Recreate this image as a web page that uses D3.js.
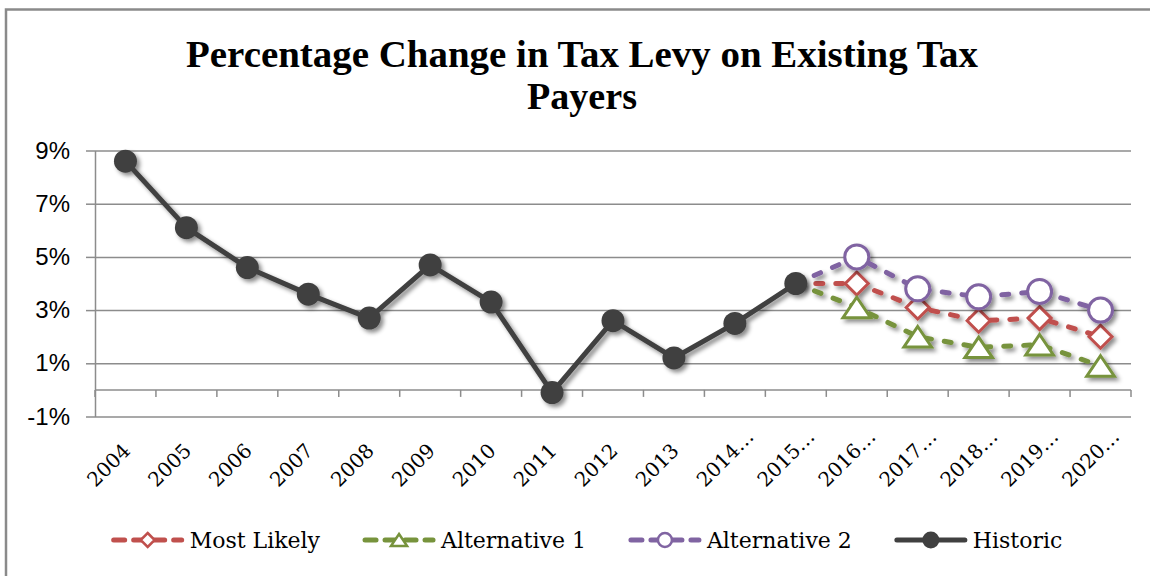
<!DOCTYPE html>
<html>
<head>
<meta charset="utf-8">
<script src="https://cdn.jsdelivr.net/npm/d3@7"></script>
<style>
  body { margin: 0; background: #fff; }
  svg { display: block; }
</style>
</head>
<body>
<div id="chart"></div>
<script>
// data
var categories = ["2004", "2005", "2006", "2007", "2008", "2009", "2010", "2011", "2012",
                  "2013", "2014\u2026", "2015\u2026", "2016\u2026", "2017\u2026", "2018\u2026",
                  "2019\u2026", "2020\u2026"];
var historic     = [8.6, 6.1, 4.6, 3.6, 2.7, 4.7, 3.3, -0.1, 2.6, 1.2, 2.5, 4.0, null, null, null, null, null];
var mostLikely   = [null, null, null, null, null, null, null, null, null, null, null, 4.0, 4.0, 3.1, 2.6, 2.7, 2.0];
var alternative1 = [null, null, null, null, null, null, null, null, null, null, null, 4.0, 3.1, 2.0, 1.6, 1.7, 0.9];
var alternative2 = [null, null, null, null, null, null, null, null, null, null, null, 4.0, 5.0, 3.8, 3.5, 3.7, 3.0];
var yTicks = [-1, 1, 3, 5, 7, 9];
var titleLines = ["Percentage Change in Tax Levy on Existing Tax", "Payers"];

var width = 1150, height = 576;
var serif = "'DejaVu Serif', 'Liberation Serif', serif";
var gridColor = "#8c8c8c";

var series = [
    {name: "Most Likely",   values: mostLikely,   color: "#C0504D", marker: "diamond",  dashed: true},
    {name: "Alternative 1", values: alternative1, color: "#77933C", marker: "triangle", dashed: true},
    {name: "Alternative 2", values: alternative2, color: "#8064A2", marker: "circle",   dashed: true},
    {name: "Historic",      values: historic,     color: "#404040", marker: "dot",      dashed: false}
];

//
// Scales
//
var x = d3.scaleBand().domain(categories).range([95, 1131]);
var y = d3.scaleLinear().domain([-1, 9]).range([416.5, 150.5]);
function cx(i) { return x(categories[i]) + x.bandwidth() / 2; }

//
// SVG
//
var svg = d3.select("#chart").append("svg")
    .attr("width", width)
    .attr("height", height);

var defs = svg.append("defs");
defs.append("filter")
    .attr("id", "shadow")
    .attr("x", "-20%").attr("y", "-20%")
    .attr("width", "150%").attr("height", "150%")
  .append("feDropShadow")
    .attr("dx", 3).attr("dy", 3)
    .attr("stdDeviation", 2)
    .attr("flood-color", "#000")
    .attr("flood-opacity", 0.45);

// chart frame
svg.append("rect")
    .attr("x", 6).attr("y", 9.5)
    .attr("width", 1200).attr("height", 650)
    .attr("fill", "#fff")
    .attr("stroke", "#8a8a8a")
    .attr("stroke-width", 2.5);

// title
svg.append("g").selectAll("text")
    .data(titleLines)
  .enter().append("text")
    .attr("x", 582)
    .attr("y", function(d, i) { return 67 + i * 42; })
    .attr("text-anchor", "middle")
    .attr("font-family", "'Liberation Serif', serif")
    .attr("font-weight", "bold")
    .attr("font-size", 37)
    .attr("fill", "#000")
    .text(function(d) { return d; })
    .each(function(d, i) {
        var w = this.getComputedTextLength();
        var target = i === 0 ? 792 : 110;
        if (Math.abs(w - target) > 2) {
            d3.select(this).attr("textLength", target).attr("lengthAdjust", "spacingAndGlyphs");
        }
    });

// y gridlines
svg.append("g")
    .attr("class", "grid")
    .attr("transform", "translate(95,0)")
    .call(d3.axisLeft(y).tickValues(yTicks).tickSize(-(x.range()[1] - x.range()[0])).tickFormat(""))
    .call(function(g) { g.select(".domain").remove(); })
    .selectAll("line")
    .attr("stroke", gridColor)
    .attr("stroke-width", 1.5);

// y axis
var yAxis = svg.append("g")
    .attr("transform", "translate(95,0)")
    .call(d3.axisLeft(y).tickValues(yTicks).tickSizeInner(9).tickSizeOuter(0).tickPadding(16)
          .tickFormat(function(d) { return d + "%"; }));
yAxis.select(".domain").attr("stroke", gridColor).attr("stroke-width", 1.5);
yAxis.selectAll(".tick line").attr("stroke", gridColor).attr("stroke-width", 1.5);
yAxis.selectAll(".tick text")
    .attr("font-family", "'Liberation Sans', Arial, sans-serif")
    .attr("font-size", 24)
    .attr("fill", "#000");

// x axis (crosses at 0%)
var xAxis = svg.append("g");
xAxis.append("line")
    .attr("x1", x.range()[0]).attr("x2", x.range()[1])
    .attr("y1", y(0)).attr("y2", y(0))
    .attr("stroke", gridColor).attr("stroke-width", 1.5);
xAxis.selectAll(".xtick")
    .data(categories.map(function(c) { return x(c); }).concat([x.range()[1]]))
  .enter().append("line")
    .attr("class", "xtick")
    .attr("x1", function(d) { return d; }).attr("x2", function(d) { return d; })
    .attr("y1", y(0)).attr("y2", y(0) + 7)
    .attr("stroke", gridColor).attr("stroke-width", 1.5);
xAxis.selectAll(".xlabel")
    .data(categories)
  .enter().append("text")
    .attr("class", "xlabel")
    .attr("transform", function(d, i) { return "translate(" + (cx(i) - 30) + ",488) rotate(-45)"; })
    .attr("text-anchor", "start")
    .attr("font-family", serif)
    .attr("font-size", 20)
    .attr("fill", "#000")
    .text(function(d) { return d; });

//
// Series
//
function markerPath(type, s) {
    if (type === "diamond") return "M0," + (-s) + "L" + s + ",0L0," + s + "L" + (-s) + ",0Z";
    if (type === "triangle") return "M0," + (-s * 0.85) + "L" + (s * 1.15) + "," + (s * 0.85) + "L" + (-s * 1.15) + "," + (s * 0.85) + "Z";
    return d3.symbol(d3.symbolCircle, Math.PI * s * s)();
}

var line = d3.line()
    .defined(function(d) { return d != null; })
    .x(function(d, i) { return cx(i); })
    .y(function(d) { return y(d); });

series.forEach(function(s) {
    var g = svg.append("g").attr("filter", "url(#shadow)");
    g.append("path")
        .datum(s.values)
        .attr("fill", "none")
        .attr("stroke", s.color)
        .attr("stroke-width", 5)
        .attr("stroke-linecap", "round")
        .attr("stroke-linejoin", "round")
        .attr("stroke-dasharray", s.dashed ? "7 13" : null)
        .attr("d", line);

    var pts = s.values.map(function(v, i) { return {v: v, i: i}; })
        .filter(function(d) { return d.v != null && (s.marker === "dot" || d.i > 11); });

    g.selectAll(".m")
        .data(pts)
      .enter().append("path")
        .attr("transform", function(d) { return "translate(" + cx(d.i) + "," + y(d.v) + ")"; })
        .attr("d", function() {
            if (s.marker === "dot") return markerPath("circle", 11.5);
            if (s.marker === "circle") return markerPath("circle", 12);
            if (s.marker === "diamond") return markerPath("diamond", 11.5);
            return markerPath("triangle", 12);
        })
        .attr("fill", s.marker === "dot" ? s.color : "#fff")
        .attr("stroke", s.marker === "dot" ? "none" : s.color)
        .attr("stroke-width", 3);
});

//
// Legend
//
var legend = svg.append("g");
var symW = 72, gap = 6, itemGap = 43;
var items = legend.selectAll(".item")
    .data(series)
  .enter().append("g")
    .attr("class", "item");

items.append("text")
    .attr("x", symW + gap)
    .attr("y", 548)
    .attr("font-family", serif)
    .attr("font-size", 22)
    .attr("fill", "#000")
    .text(function(d) { return d.name; });

items.append("line")
    .attr("x1", 2).attr("x2", symW - 2)
    .attr("y1", 540).attr("y2", 540)
    .attr("stroke", function(d) { return d.color; })
    .attr("stroke-width", 5)
    .attr("stroke-linecap", "round")
    .attr("stroke-dasharray", function(d) { return d.dashed ? "11 9" : null; });

items.append("path")
    .attr("transform", "translate(" + (symW / 2) + ",540)")
    .attr("d", function(d) {
        if (d.marker === "diamond") return markerPath("diamond", 7);
        if (d.marker === "triangle") return markerPath("triangle", 7);
        return markerPath("circle", d.marker === "dot" ? 8.5 : 7);
    })
    .attr("fill", function(d) { return d.marker === "dot" ? d.color : "#fff"; })
    .attr("stroke", function(d) { return d.marker === "dot" ? "none" : d.color; })
    .attr("stroke-width", 2.5);

var widths = [];
items.select("text").each(function() { widths.push(this.getComputedTextLength()); });
var total = d3.sum(widths, function(w) { return symW + gap + w; }) + itemGap * (widths.length - 1);
var pos = 587 - total / 2;
items.attr("transform", function(d, i) {
    var t = "translate(" + pos + ",0)";
    pos += symW + gap + widths[i] + itemGap;
    return t;
});
</script>
</body>
</html>
